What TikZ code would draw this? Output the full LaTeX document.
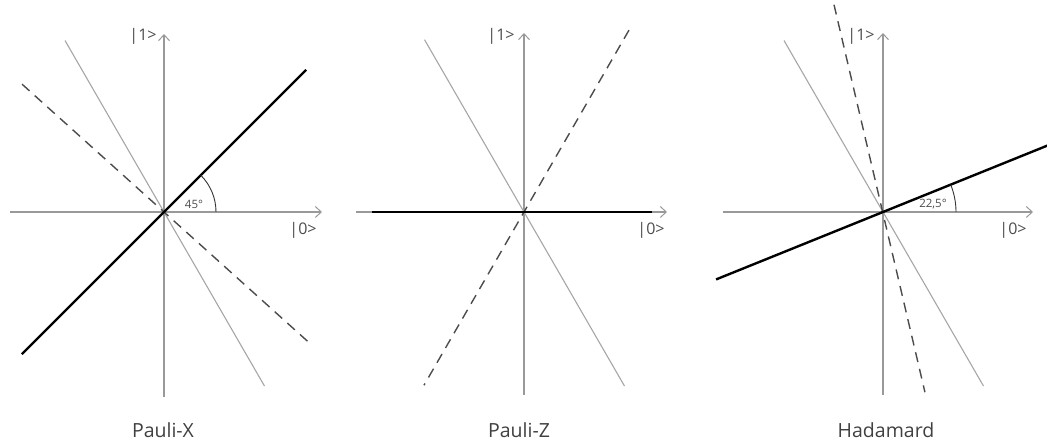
\documentclass[tikz,border=0pt]{standalone}
\usepackage{xcolor}
\usepackage{fontspec}
\setmainfont{Open Sans}
\usepackage{tikz}
\usetikzlibrary{arrows.meta, positioning, calc}

\definecolor{axisgray}{gray}{0.6}
\definecolor{rotgray}{gray}{0.65}
\definecolor{dashgray}{gray}{0.3}

\begin{document}
\begin{tikzpicture}[
    x=1pt, y=1pt,
    axis/.style={draw=axisgray, line width=1.8pt, -{Straight Barb[length=6pt, width=11pt, line width=1pt]}},
    rotline/.style={draw=rotgray, line width=1.1pt},
    gateline/.style={draw=black, line width=2.4pt},
    reflline/.style={draw=dashgray, line width=1.4pt, dash pattern=on 10pt off 7pt},
    anglearc/.style={draw=black!80, line width=0.9pt},
    ketlabel/.style={font=\fontsize{16}{18}\selectfont, text=black!70, inner sep=0pt},
    anglelabel/.style={font=\fontsize{11.5}{13}\selectfont, text=black!70, inner sep=0pt},
    title/.style={font=\fontsize{19.5}{22}\selectfont, text=black!75, inner sep=0pt}
]
    \useasboundingbox (0,0) rectangle (1047,443);

    \coordinate (ox) at (164,231);
    \coordinate (oz) at (524,231);
    \coordinate (oh) at (883,231);

    % Pauli-X
    \begin{scope}[shift={(ox)}]
        \draw[axis] (-154,0) -- (158,0);
        \draw[axis] (0,-185) -- (0,178);
        \draw[rotline] (120:198) -- (-60:201);
        \draw[reflline] (138:191) -- (-42:195);
        \draw[gateline] (225:201) -- (45:201);
        \draw[anglearc] (52,0) arc (0:45:52);
        \node[anglelabel] (xang) at (30,8) {45°};
        \node[ketlabel] (xone) at (-21,176) {|1>};
        \node[ketlabel] (xzero) at (139,-18) {|0>};
    \end{scope}
    \node[title] (xtitle) at (163,13) {Pauli-X};

    % Pauli-Z
    \begin{scope}[shift={(oz)}]
        \draw[axis] (-168,0) -- (143,0);
        \draw[axis] (0,-183) -- (0,179);
        \draw[rotline] (120:199) -- (-60:201);
        \draw[reflline] (60:210) -- (240:200);
        \draw[gateline] (-152,0) -- (128,0);
        \node[ketlabel] (zone) at (-23,176) {|1>};
        \node[ketlabel] (zzero) at (127,-18) {|0>};
    \end{scope}
    \node[title] (ztitle) at (519,13) {Pauli-Z};

    % Hadamard
    \begin{scope}[shift={(oh)}]
        \draw[axis] (-160,0) -- (150,0);
        \draw[axis] (0,-183) -- (0,179);
        \draw[rotline] (120:198) -- (-60:201);
        \draw[reflline] (103.3:213) -- (-76.9:185);
        \draw[gateline] (202:180) -- (22:190);
        \draw[anglearc] (73,0) arc (0:22:73);
        \node[anglelabel] (hang) at (50,8) {22,5°};
        \node[ketlabel] (hone) at (-22,176) {|1>};
        \node[ketlabel] (hzero) at (130,-18) {|0>};
    \end{scope}
    \node[title] (htitle) at (886,13) {Hadamard};
\end{tikzpicture}
\end{document}
